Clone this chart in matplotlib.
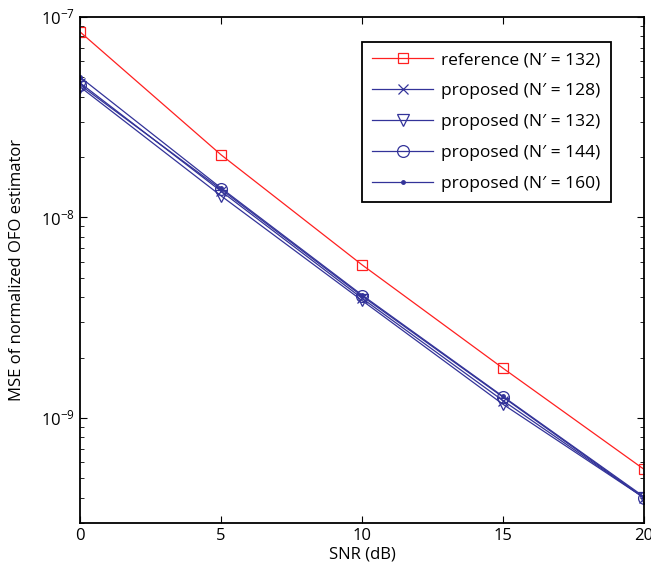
import numpy as np
from matplotlib import pyplot as plt
from matplotlib.ticker import LogLocator, NullFormatter

plt.rcParams['font.family'] = ['Open Sans', 'DejaVu Sans']
plt.rcParams['mathtext.fontset'] = 'custom'
plt.rcParams['mathtext.rm'] = 'Open Sans'

snr = [0, 5, 10, 15, 20]

mse_ref_132 = [8.4e-8, 2.05e-8, 5.8e-9, 1.77e-9, 5.55e-10]
mse_prop_128 = [4.68e-8, 1.35e-8, 3.95e-9, 1.22e-9, 4.0e-10]
mse_prop_132 = [4.47e-8, 1.28e-8, 3.85e-9, 1.17e-9, 4.0e-10]
mse_prop_144 = [4.57e-8, 1.38e-8, 4.05e-9, 1.27e-9, 4.0e-10]
mse_prop_160 = [5.0e-8, 1.40e-8, 4.1e-9, 1.28e-9, 4.05e-10]

etiquetas = ["reference (N\u2032 = 132)", "proposed (N\u2032 = 128)",
             "proposed (N\u2032 = 132)", "proposed (N\u2032 = 144)",
             "proposed (N\u2032 = 160)"]

rojo = '#ff2020'
azul = '#333399'

fig = plt.figure(figsize=(6.51, 5.77), dpi=100)
ax = fig.add_axes([0.123, 0.094, 0.866, 0.877])

ax.semilogy(snr, mse_ref_132, color=rojo, lw=0.9, marker='s', ms=7.5,
            mfc='none', mec=rojo, mew=0.9, label=etiquetas[0])
ax.semilogy(snr, mse_prop_128, color=azul, lw=0.9, marker='x', ms=7,
            mew=0.9, label=etiquetas[1])
ax.semilogy(snr, mse_prop_132, color=azul, lw=0.9, marker='v', ms=8.5,
            mfc='none', mew=0.9, label=etiquetas[2])
ax.semilogy(snr, mse_prop_144, color=azul, lw=0.9, marker='o', ms=8.5,
            mfc='none', mew=0.9, label=etiquetas[3])
ax.semilogy(snr, mse_prop_160, color=azul, lw=0.9, marker='.', ms=5,
            label=etiquetas[4])

ax.set_xlim(0, 20)
ax.set_ylim(3e-10, 1e-7)
ax.set_xticks([0, 5, 10, 15, 20])
ax.yaxis.set_major_locator(LogLocator(base=10, numticks=10))
ax.yaxis.set_minor_locator(LogLocator(base=10, subs=np.arange(2, 10), numticks=20))
ax.yaxis.set_minor_formatter(NullFormatter())

ax.tick_params(which='both', direction='in', top=True, right=True, labelsize=12)
ax.tick_params(which='major', length=5)
ax.tick_params(which='minor', length=3)
for s in ax.spines.values():
    s.set_linewidth(1.3)

ax.set_xlabel('SNR (dB)', fontsize=12, labelpad=2)
ax.set_ylabel('MSE of normalized OFO estimator', fontsize=12, labelpad=12)

leg = ax.legend(loc='upper right', bbox_to_anchor=(0.941, 0.951), fontsize=12.5,
                fancybox=False, framealpha=1, edgecolor='black',
                borderaxespad=0, handlelength=3.5, handletextpad=0.45,
                borderpad=0.6, labelspacing=0.85)
leg.get_frame().set_linewidth(1.3)

fig.savefig('out.png', dpi=100)
